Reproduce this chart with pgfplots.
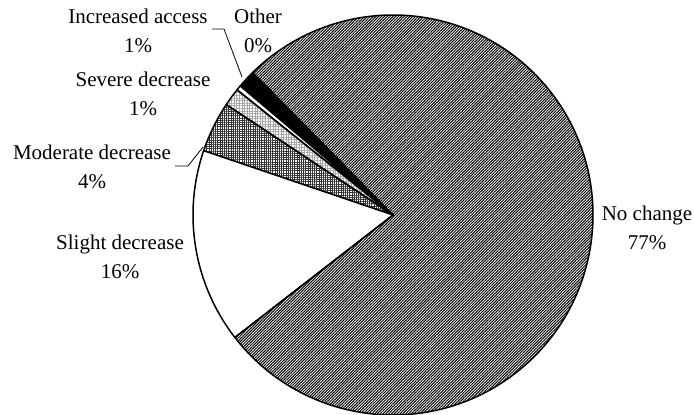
\documentclass[border=0pt]{standalone}
\usepackage{pgfplots}
\pgfplotsset{compat=1.18}
\usepackage{pgfplotstable}
\usetikzlibrary{patterns.meta}
\usepackage{fontspec}
\setmainfont{Liberation Serif}

% Share of responses, listed counter-clockwise from the first boundary
\pgfplotstableread{
slice            value
IncreasedAccess  1.45
Other            0.40
Severe           1.45
Moderate         4.10
Slight          15.70
NoChange        76.90
}\piedata

\def\firstboundary{134.6}

\begin{document}
\begin{tikzpicture}[
  lbl/.style={align=center, font=\fontsize{21}{29}\selectfont, inner sep=0pt},
  wedge/.style={draw=black, line width=1.5pt, line join=round},
]
% cumulative start/end angle of every slice
\xdef\cumangle{\firstboundary}
\foreach \i/\n in {0/A,1/B,2/C,3/D,4/E,5/F}{
  \pgfplotstablegetelem{\i}{value}\of\piedata
  \pgfmathsetmacro{\endang}{\cumangle+3.6*\pgfplotsretval}
  \expandafter\xdef\csname sa\n\endcsname{\cumangle}
  \expandafter\xdef\csname ea\n\endcsname{\endang}
  \xdef\cumangle{\endang}
}
\begin{axis}[
  width=694pt, height=415pt, scale only axis,
  xmin=0, xmax=694, ymin=0, ymax=415,
  hide axis, clip=false,
]
% Increased access
\addplot[wedge, fill=black] coordinates {(393,200)}
  -- ++(\saA:200pt) arc[start angle=\saA, end angle=\eaA, radius=200pt] -- cycle;
% Other
\addplot[wedge, fill=white] coordinates {(393,200)}
  -- ++(\saB:200pt) arc[start angle=\saB, end angle=\eaB, radius=200pt] -- cycle;
% Severe decrease
\addplot[wedge, pattern={Hatch[distance=2.6pt, angle=0, line width=0.5pt]}, pattern color=gray!70] coordinates {(393,200)}
  -- ++(\saC:200pt) arc[start angle=\saC, end angle=\eaC, radius=200pt] -- cycle;
% Moderate decrease
\addplot[wedge, pattern={Hatch[distance=2.2pt, angle=0, line width=0.8pt]}, pattern color=black!80] coordinates {(393,200)}
  -- ++(\saD:200pt) arc[start angle=\saD, end angle=\eaD, radius=200pt] -- cycle;
% Slight decrease
\addplot[wedge, fill=white] coordinates {(393,200)}
  -- ++(\saE:200pt) arc[start angle=\saE, end angle=\eaE, radius=200pt] -- cycle;
% No change
\addplot[wedge, pattern={Lines[distance=2pt, angle=45, line width=1pt]}, pattern color=black] coordinates {(393,200)}
  -- ++(\saF:200pt) arc[start angle=\saF, end angle=\eaF, radius=200pt] -- cycle;

% leader lines
\draw[line width=0.8pt] (axis cs:212,386) -- (axis cs:224,386) -- (axis cs:242,338);
\draw[line width=0.8pt] (axis cs:175,249) -- (axis cs:188,249) -- (axis cs:203,268);

% data labels
\node[lbl] at (axis cs:138,384.5) {Increased access\\1\%};
\node[lbl] at (axis cs:258,384.5) {Other\\0\%};
\node[lbl] at (axis cs:143,321) {Severe decrease\\1\%};
\node[lbl] at (axis cs:92,248) {Moderate decrease\\4\%};
\node[lbl] at (axis cs:120,158.5) {Slight decrease\\16\%};
\node[lbl] at (axis cs:647,187) {No change\\77\%};
\end{axis}
\pgfresetboundingbox
\useasboundingbox (current axis.south west) rectangle (current axis.north east);
\end{tikzpicture}
\end{document}
